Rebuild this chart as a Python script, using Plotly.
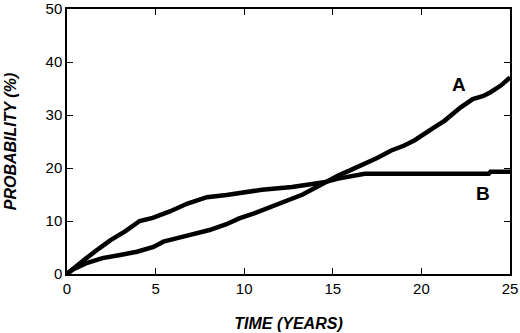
import plotly.graph_objects as go

# Curve A (slower early, rising later)
a_time = [0, 0.3, 1.06, 2.0, 3.0, 3.95, 4.88, 5.44, 6.5, 8.04, 9.0, 9.72, 10.6, 11.58, 12.7, 13.3, 14.2, 15.3, 16.0, 16.8, 17.5, 18.3, 19.0, 19.6, 20.1, 20.7, 21.3, 22.2, 22.9, 23.5, 23.9, 24.5, 25.0]
a_prob = [0, 0.8, 2.0, 3.0, 3.6, 4.2, 5.1, 6.1, 7.0, 8.3, 9.4, 10.5, 11.5, 12.7, 14.2, 15.0, 16.6, 18.6, 19.6, 20.8, 21.9, 23.3, 24.2, 25.2, 26.4, 27.6, 28.9, 31.4, 33.0, 33.6, 34.3, 35.6, 37.1]

# Curve B (faster early, plateaus)
b_time = [0, 0.4, 1.06, 1.8, 2.46, 3.3, 4.1, 4.84, 5.8, 6.8, 7.9, 9.0, 10.0, 11.0, 12.7, 13.5, 14.5, 15.3, 16.2, 16.8, 18.0, 20.0, 22.0, 23.8, 23.9, 25.0]
b_prob = [0, 1.0, 2.9, 4.8, 6.4, 8.1, 10.0, 10.6, 11.8, 13.3, 14.5, 14.9, 15.4, 15.9, 16.4, 16.8, 17.3, 18.0, 18.6, 18.9, 18.9, 18.9, 18.9, 18.9, 19.3, 19.3]

x_ticks = [0, 5, 10, 15, 20, 25]
y_ticks = [0, 10, 20, 30, 40, 50]

fig = go.Figure()
fig.add_trace(go.Scatter(x=a_time, y=a_prob, mode="lines", line=dict(color="black", width=4.5), showlegend=False))
fig.add_trace(go.Scatter(x=b_time, y=b_prob, mode="lines", line=dict(color="black", width=4.5), showlegend=False))

fig.add_annotation(x=22.1, y=35.8, text="<b>A</b>", showarrow=False,
                   font=dict(family="Liberation Sans, Arial", size=19, color="black"))
fig.add_annotation(x=23.5, y=15.2, text="<b>B</b>", showarrow=False,
                   font=dict(family="Liberation Sans, Arial", size=19, color="black"))

axis_common = dict(showgrid=False, zeroline=False, showline=True, linecolor="black", linewidth=1.5,
                   mirror="allticks", ticks="inside", ticklen=6, tickwidth=1, tickcolor="black",
                   automargin=False, ticklabeloverflow="allow",
                   tickfont=dict(family="Liberation Sans, Arial", size=15, color="black"))

fig.update_layout(
    width=520, height=333,
    margin=dict(l=67, r=10, t=9, b=59),
    plot_bgcolor="white", paper_bgcolor="white",
    xaxis=dict(range=[0, 25], tickvals=x_ticks, **axis_common,
               title=dict(text="<b><i>TIME (YEARS)</i></b>", standoff=22,
                          font=dict(family="Liberation Sans, Arial", size=16, color="black"))),
    yaxis=dict(range=[0, 50], tickvals=y_ticks, **axis_common,
               title=dict(text="<b><i>PROBABILITY (%)</i></b>", standoff=25,
                          font=dict(family="Liberation Sans, Arial", size=16, color="black"))),
)

fig.write_html("out.html", config={"displayModeBar": False},
               post_script="document.body.style.margin='0';document.body.style.overflow='hidden';")
